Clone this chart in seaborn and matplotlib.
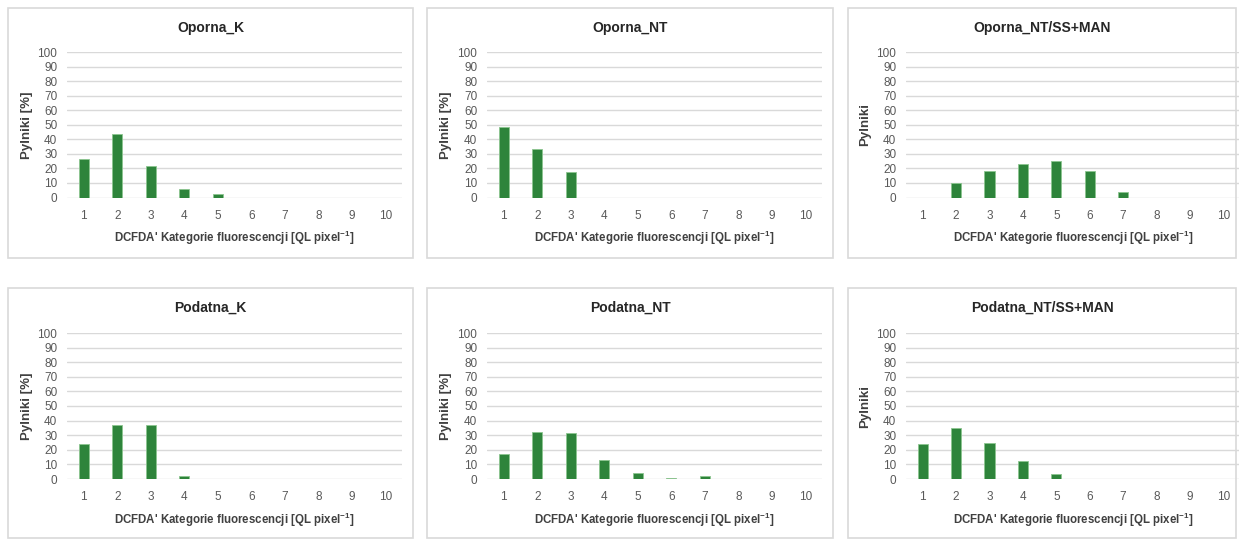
import numpy as np
import pandas as pd
import matplotlib
matplotlib.use("Agg")
import matplotlib.pyplot as plt
from matplotlib.patches import Rectangle
import seaborn as sns

# data
categories = [str(i) for i in range(1, 11)]
oporna_k = [26.5, 43.5, 21.5, 5.5, 2.5, 0, 0, 0, 0, 0]
oporna_nt = [48.5, 33.5, 17.2, 0, 0, 0, 0, 0, 0, 0]
oporna_nt_ss = [0, 10.0, 18.3, 23.1, 25.2, 18.3, 3.7, 0, 0, 0]
podatna_k = [24.0, 37.0, 37.0, 2.0, 0, 0, 0, 0, 0, 0]
podatna_nt = [17.0, 32.0, 31.5, 13.0, 4.0, 1.0, 2.0, 0, 0, 0]
podatna_nt_ss = [24.0, 35.0, 25.0, 12.0, 3.5, 0, 0, 0, 0, 0]

titles = ["Oporna_K", "Oporna_NT", "Oporna_NT/SS+MAN",
          "Podatna_K", "Podatna_NT", "Podatna_NT/SS+MAN"]
series = [oporna_k, oporna_nt, oporna_nt_ss, podatna_k, podatna_nt, podatna_nt_ss]
ylabels = ["Pylniki [%]", "Pylniki [%]", "Pylniki",
           "Pylniki [%]", "Pylniki [%]", "Pylniki"]
xlabel = r"DCFDA' Kategorie fluorescencji [QL pixel$^{\mathregular{-1}}$]"

BAR = "#2e843b"
GRID = "#d9d9d9"
TXT = "#595959"

sns.set_theme(style="white")
plt.rcParams["font.family"] = ["Liberation Sans", "DejaVu Sans"]
plt.rcParams["mathtext.default"] = "regular"

W, H = 1239, 541
fig = plt.figure(figsize=(W / 100, H / 100), dpi=100)
fig.patch.set_facecolor("white")

# panel frames (px): frame left, frame right, plot left, plot right, ylabel x
# (the right-hand panel is cut off by the image edge in the reference)
cols = [(8, 413, 67, 402, 33), (427, 833, 487, 822, 452),
        (848, 1236, 906, 1240, 871)]
rows = [(8, 258, 52, 197.5), (288, 538, 333, 479)]


def px(x0, y0, x1, y1):
    return [x0 / W, 1 - y1 / H, (x1 - x0) / W, (y1 - y0) / H]


for i, (title, vals, ylab) in enumerate(zip(titles, series, ylabels)):
    r, c = divmod(i, 3)
    fl, fr, al, ar, yl = cols[c]
    ft, fb, at, ab = rows[r]
    fig.patches.append(Rectangle((fl / W, 1 - fb / H), (fr - fl) / W, (fb - ft) / H,
                                 transform=fig.transFigure, facecolor="none",
                                 edgecolor=GRID, linewidth=1.2, zorder=-1))
    ax = fig.add_axes(px(al, at, ar, ab))
    ax.set_facecolor("none")
    df = pd.DataFrame({"kat": categories, "val": vals})
    sns.barplot(data=df, x="kat", y="val", ax=ax, color=BAR, width=0.3,
                saturation=1, edgecolor="#8cc58f", linewidth=0.6, zorder=3)
    ax.set_ylim(0, 100)
    ax.set_xlim(-0.5, 9.5)
    ax.set_yticks(np.arange(0, 101, 10))
    ax.yaxis.grid(True, color=GRID, linewidth=1.0)
    ax.set_axisbelow(True)
    for s in ax.spines.values():
        s.set_visible(False)
    ax.tick_params(axis="both", length=0, labelsize=8.5, colors=TXT)
    ax.tick_params(axis="y", pad=7)
    ax.tick_params(axis="x", pad=9)
    ax.set_ylabel(ylab, fontsize=9.5, fontweight="bold", color="#404040")
    ax.yaxis.set_label_coords((yl - al) / (ar - al), 0.5)
    ax.set_xlabel(xlabel, fontsize=8.3, fontweight="bold", color="#404040", labelpad=5)
    fig.text((fl + fr) / 2 / W, 1 - (ft + 20) / H, title, ha="center", va="center",
             fontsize=10, fontweight="bold", color="#262626")

fig.savefig("out.png", dpi=100, facecolor="white")
